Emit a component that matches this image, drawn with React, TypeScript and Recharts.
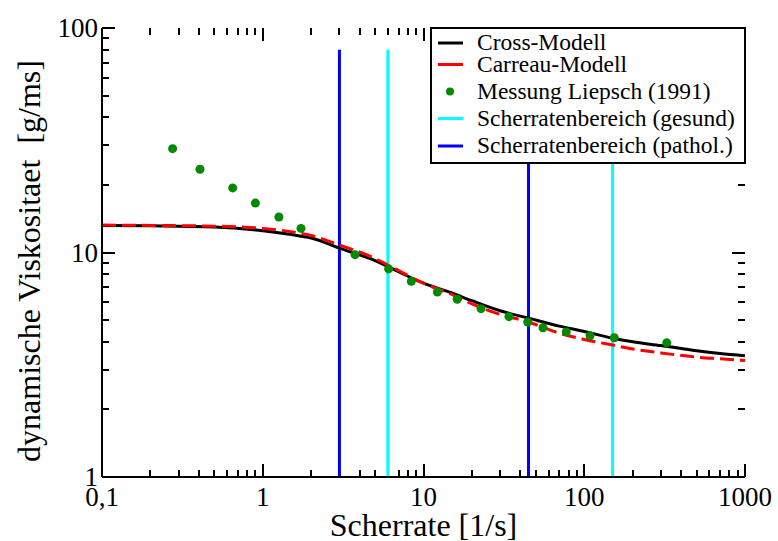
import { ComposedChart, Line, XAxis, YAxis, ReferenceLine } from 'recharts'

// shear rate [1/s]
const curveX = [0.1, 0.2, 0.5, 1, 1.7, 2, 3, 5, 6, 10, 15, 20, 30, 45, 70, 100, 150, 200, 300, 500, 700, 1000]
const crossY = [13.2, 13.15, 13.0, 12.5, 11.85, 11.6, 10.45, 9.2, 8.65, 7.3, 6.6, 6.1, 5.5, 5.1, 4.7, 4.45, 4.15, 4.0, 3.85, 3.65, 3.55, 3.47]
const carreauY = [13.25, 13.2, 13.1, 12.8, 12.2, 11.9, 10.8, 9.4, 8.8, 7.3, 6.5, 5.9, 5.3, 4.9, 4.37, 4.1, 3.87, 3.72, 3.57, 3.42, 3.36, 3.3]

const measX = [0.275, 0.407, 0.65, 0.9, 1.26, 1.73, 3.75, 6.07, 8.4, 12.2, 16.2, 22.8, 34, 44.5, 55.4, 77.3, 108.6, 153.8, 326]
const measY = [29.0, 23.5, 19.4, 16.6, 14.4, 12.8, 9.78, 8.45, 7.44, 6.67, 6.19, 5.62, 5.18, 4.9, 4.62, 4.43, 4.26, 4.17, 3.96]

const healthyRange = [6, 150]
const patholRange = [3, 45]
const rangeTop = 80

const xMajor = [0.1, 1, 10, 100, 1000]
const xLabels = ['0,1', '1', '10', '100', '1000']
const yMajor = [1, 10, 100]
const yLabels = ['1', '10', '100']

const FONT = 'Liberation Serif, Times New Roman, serif'

const pts = (xs: number[], ys: number[]) => xs.map((x, i) => ({ x, y: ys[i] }))
const vline = (x: number) => [{ x, y: 1 }, { x, y: rangeTop }]

// 2..9 of every decade
const minorTicks = (majors: number[]) => {
  const out: number[] = []
  majors.slice(0, -1).forEach(m => { for (let k = 2; k < 10; k++) out.push(m * k) })
  return out
}
const xMinor = minorTicks(xMajor)
const yMinor = minorTicks(yMajor)
const labelOf = (arr: number[], labels: string[], v: number) =>
  labels[arr.findIndex(m => Math.abs(v / m - 1) < 1e-6)] ?? ''

// inward tick length as a factor on the log axes (~13px major, ~7px minor)
const yTickF = { major: 1.143, minor: 1.074 }
const xTickF = { major: 1.205, minor: 1.105 }
const [xLo, xHi] = [0.1, 1000]
const [yLo, yHi] = [1, 100]

const tickSegs = () => {
  const segs: { key: string; s: { x: number; y: number }[] }[] = []
  const xs = [...xMajor.map(v => [v, yTickF.major]), ...xMinor.map(v => [v, yTickF.minor])]
  xs.forEach(([v, f], i) => {
    segs.push({ key: 'b' + i, s: [{ x: v, y: yLo }, { x: v, y: yLo * f }] })
    segs.push({ key: 't' + i, s: [{ x: v, y: yHi }, { x: v, y: yHi / f }] })
  })
  const ys = [...yMajor.map(v => [v, xTickF.major]), ...yMinor.map(v => [v, xTickF.minor])]
  ys.forEach(([v, f], i) => {
    segs.push({ key: 'l' + i, s: [{ x: xLo, y: v }, { x: xLo * f, y: v }] })
    segs.push({ key: 'r' + i, s: [{ x: xHi, y: v }, { x: xHi / f, y: v }] })
  })
  return segs
}

const XLabel = ({ x, y, payload }: any) => (
  <text x={x} y={y + 29} textAnchor="middle" fontSize={27} fontFamily={FONT} fill="#000">
    {labelOf(xMajor, xLabels, payload.value)}
  </text>
)

const YLabel = ({ x, y, payload }: any) => (
  <text x={x - 4} y={y + 9} textAnchor="end" fontSize={27} fontFamily={FONT} fill="#000">
    {labelOf(yMajor, yLabels, payload.value)}
  </text>
)

const legendItems = [
  { name: 'Cross-Modell', color: '#000000', kind: 'line' },
  { name: 'Carreau-Modell', color: '#ff0000', kind: 'line' },
  { name: 'Messung Liepsch (1991)', color: '#008a00', kind: 'dot' },
  { name: 'Scherratenbereich (gesund)', color: '#00ffff', kind: 'line' },
  { name: 'Scherratenbereich (pathol.)', color: '#0000ff', kind: 'line' },
]
const legendRowY = [16, 37.5, 64.5, 91.5, 119]

const LegendBox = () => (
  <svg width={316} height={137} style={{ position: 'absolute', left: 430, top: 27 }}>
    <rect x={1} y={1} width={314} height={135} fill="#fff" stroke="#000" strokeWidth={2} />
    {legendItems.map((it, i) => (
      <g key={it.name}>
        {it.kind === 'line'
          ? <line x1={8} x2={33} y1={legendRowY[i]} y2={legendRowY[i]} stroke={it.color} strokeWidth={3} />
          : <circle cx={20} cy={legendRowY[i]} r={4} fill={it.color} />}
        <text x={47} y={legendRowY[i] + 7} fontSize={23.5} fontFamily={FONT} fill="#000">{it.name}</text>
      </g>
    ))}
  </svg>
)

const frame = { stroke: '#000', strokeWidth: 2 }
const xCommon = { type: 'number' as const, dataKey: 'x', scale: 'log' as const, domain: [xLo, xHi], interval: 0, tickSize: 0, tickMargin: 0, tickLine: false }
const yCommon = { type: 'number' as const, dataKey: 'y', scale: 'log' as const, domain: [yLo, yHi], interval: 0, tickSize: 0, tickMargin: 0, tickLine: false }

export default function App() {
  return (
    <div style={{ position: 'absolute', left: 0, top: 0, width: 778, height: 541 }}>
      <ComposedChart width={778} height={541} margin={{ top: 28, right: 33, left: 42, bottom: 24 }}>
        <XAxis
          xAxisId="b"
          {...xCommon}
          ticks={xMajor}
          height={40}
          tick={<XLabel />}
          axisLine={frame}
          label={{
            content: ({ viewBox }: any) => (
              <text x={viewBox.x + viewBox.width / 2} y={536} textAnchor="middle"
                fontSize={32} fontFamily={FONT} fill="#000">Scherrate [1/s]</text>
            ),
          }}
        />
        <XAxis xAxisId="t" orientation="top" {...xCommon} ticks={xMajor} height={0} tick={false} axisLine={frame} />
        <YAxis
          yAxisId="l"
          {...yCommon}
          ticks={yMajor}
          width={60}
          tick={<YLabel />}
          axisLine={frame}
          label={{
            content: () => (
              <text x={40} y={261} textAnchor="middle" transform="rotate(-90, 40, 261)"
                fontSize={32} fontFamily={FONT} fill="#000" style={{ whiteSpace: 'pre' }}>
                {'dynamische Viskositaet  [g/ms]'}
              </text>
            ),
          }}
        />
        <YAxis yAxisId="r" orientation="right" {...yCommon} ticks={yMajor} width={0} tick={false} axisLine={frame} />

        {tickSegs().map(t => (
          <ReferenceLine key={t.key} xAxisId="b" yAxisId="l" segment={t.s} stroke="#000" strokeWidth={2}
            ifOverflow="visible" shapeRendering="crispEdges" />
        ))}

        {patholRange.map((x, i) => (
          <Line key={'p' + i} xAxisId="b" yAxisId="l" data={vline(x)} dataKey="y" stroke="#0000ff"
            strokeWidth={3} dot={false} isAnimationActive={false} />
        ))}
        {healthyRange.map((x, i) => (
          <Line key={'h' + i} xAxisId="b" yAxisId="l" data={vline(x)} dataKey="y" stroke="#00ffff"
            strokeWidth={3} dot={false} isAnimationActive={false} />
        ))}
        <Line xAxisId="b" yAxisId="l" data={pts(curveX, crossY)} dataKey="y" type="monotone"
          stroke="#000" strokeWidth={3} dot={false} isAnimationActive={false} />
        <Line xAxisId="b" yAxisId="l" data={pts(curveX, carreauY)} dataKey="y" type="monotone"
          stroke="#ff0000" strokeWidth={3} strokeDasharray="14 6" dot={false} isAnimationActive={false} />
        <Line xAxisId="b" yAxisId="l" data={pts(measX, measY)} dataKey="y" stroke="none"
          dot={{ r: 4.5, fill: '#008a00', stroke: 'none' }} isAnimationActive={false} />
      </ComposedChart>
      <LegendBox />
    </div>
  )
}
